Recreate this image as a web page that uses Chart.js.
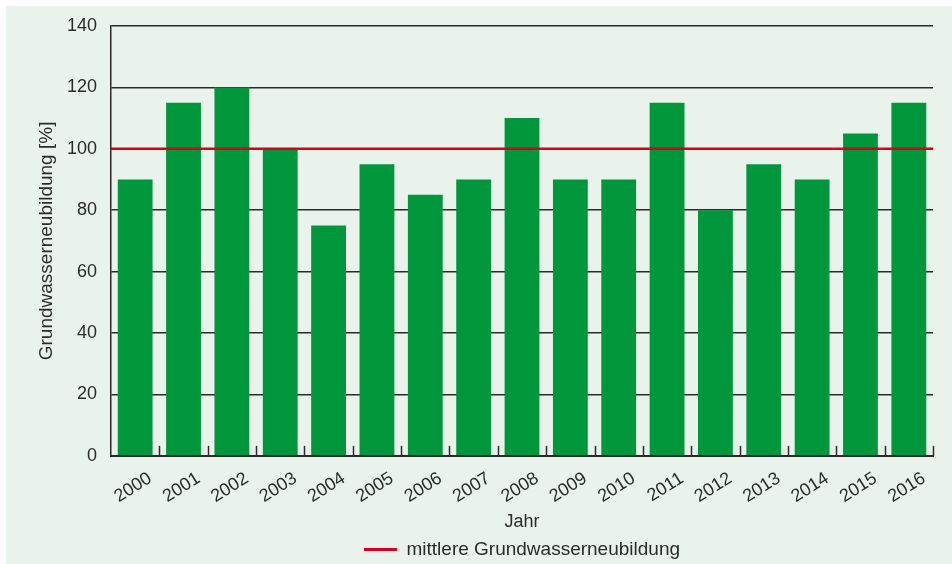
<!DOCTYPE html>
<html>
<head>
<meta charset="utf-8">
<script src="https://cdn.jsdelivr.net/npm/chart.js@4.4.0/dist/chart.umd.min.js"></script>
<style>
  html, body { margin: 0; padding: 0; background: #ffffff; }
  #wrap { position: absolute; left: 6px; top: 6px; width: 946px; height: 558px; background: #e9f3eb; }
</style>
</head>
<body>
<div id="wrap"><canvas id="chart" width="946" height="558"></canvas></div>
<script>
// Grundwasserneubildung in % des Mittels
const jahre = ["2000", "2001", "2002", "2003", "2004", "2005", "2006", "2007", "2008",
    "2009", "2010", "2011", "2012", "2013", "2014", "2015", "2016"];
const neubildung = [90, 115, 120, 100, 75, 95, 85, 90, 110, 90, 90, 115, 80, 95, 90, 105, 115];
const mittelwert = 100;
const yTicks = [0, 20, 40, 60, 80, 100, 120, 140];

const dunkel = "#2b2b2b";
const rot = "#d2001e";

// Mittelwert-Linie und kleine Striche an der x-Achse
const extras = {
    id: "extras",
    afterDatasetsDraw(chart) {
        const { ctx, chartArea, scales } = chart;
        const n = jahre.length;
        const w = (chartArea.right - chartArea.left) / n;
        ctx.save();
        ctx.strokeStyle = dunkel;
        ctx.lineWidth = 1.5;
        for (let i = 1; i <= n; i++) {
            const x = Math.round(chartArea.left + w * i) + 0.5;
            ctx.beginPath();
            ctx.moveTo(x, chartArea.bottom);
            ctx.lineTo(x, chartArea.bottom - 10);
            ctx.stroke();
        }
        const y = scales.y.getPixelForValue(mittelwert);
        ctx.strokeStyle = rot;
        ctx.lineWidth = 2.5;
        ctx.beginPath();
        ctx.moveTo(chartArea.left, y);
        ctx.lineTo(chartArea.right, y);
        ctx.stroke();
        ctx.restore();
    },
};

Chart.defaults.font.family = "'Liberation Sans', Arial, sans-serif";
Chart.defaults.color = dunkel;

new Chart(document.getElementById("chart"), {
    type: "bar",
    data: {
        labels: jahre,
        datasets: [
            {
                label: "Grundwasserneubildung",
                data: neubildung,
                backgroundColor: "#00963b",
                categoryPercentage: 1,
                barPercentage: 0.72,
            },
        ],
    },
    options: {
        responsive: false,
        animation: false,
        layout: { padding: { left: 29, right: 19, top: 20, bottom: -5 } },
        plugins: {
            tooltip: { enabled: false },
            legend: {
                position: "bottom",
                fullSize: false,
                labels: {
                    font: { size: 19 },
                    boxWidth: 33,
                    boxHeight: 3,
                    padding: 0,
                    generateLabels: () => [
                        {
                            text: "mittlere Grundwasserneubildung",
                            fillStyle: rot,
                            strokeStyle: rot,
                            lineWidth: 0,
                            fontColor: dunkel,
                        },
                    ],
                },
            },
        },
        scales: {
            x: {
                grid: { display: false },
                border: { color: dunkel, width: 2 },
                ticks: {
                    font: { size: 18 },
                    minRotation: 32,
                    maxRotation: 32,
                    labelOffset: 15,
                    padding: 4,
                },
                title: { display: true, text: "Jahr", font: { size: 18 }, padding: { top: 0, bottom: 7 } },
            },
            y: {
                min: 0,
                max: 140,
                afterBuildTicks: (axis) => {
                    axis.ticks = yTicks.map((v) => ({ value: v }));
                },
                afterFit: (axis) => {
                    axis.width = 76;
                    axis.paddingTop = 0;
                },
                grid: { color: dunkel, lineWidth: 1.5, drawTicks: false },
                border: { color: dunkel, width: 1.5 },
                ticks: { font: { size: 18 }, padding: 14 },
                title: { display: true, text: "Grundwasserneubildung [%]", font: { size: 19 }, padding: { top: 0, bottom: 0 } },
            },
        },
    },
    plugins: [extras],
});
</script>
</body>
</html>
